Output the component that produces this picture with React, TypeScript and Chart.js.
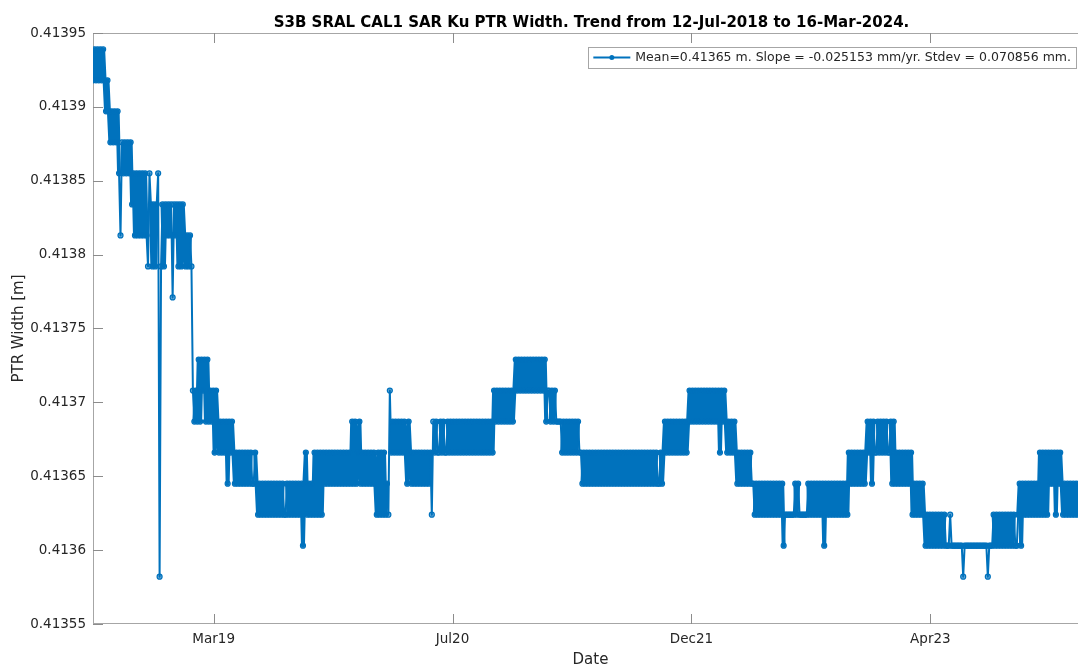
import React, { useEffect, useRef } from 'react';
import { Chart, registerables } from 'chart.js';

Chart.register(...registerables);

// ---- Text ----
const TITLE = 'S3B SRAL CAL1 SAR Ku PTR Width. Trend from 12-Jul-2018 to 16-Mar-2024.';
const X_TITLE = 'Date';
const Y_TITLE = 'PTR Width [m]';
const LEGEND_TEXT = 'Mean=0.41365 m. Slope = -0.025153 mm/yr. Stdev = 0.070856 mm.';

// ---- Axes ----
// x is measured in days since 12-Jul-2018; the record ends on 16-Mar-2024.
const X_MAX_DAY = 2074;
const X_TICK_DAYS = [250, 745, 1240, 1735];
const X_TICK_LABELS = ['Mar19', 'Jul20', 'Dec21', 'Apr23'];
const Y_MIN = 0.41355;
const Y_MAX = 0.41395;
const Y_TICKS = [0.41355, 0.4136, 0.41365, 0.4137, 0.41375, 0.4138, 0.41385, 0.4139, 0.41395];
const Y_TICK_LABELS = ['0.41355', '0.4136', '0.41365', '0.4137', '0.41375', '0.4138', '0.41385', '0.4139', '0.41395'];

// ---- Data ----
// The PTR width is quantised; these are the discrete levels it takes (m).
const ptrLevels = [
  0.413939, 0.413918, 0.413897, 0.413876, 0.413855, 0.413834, 0.413813, 0.413792,
  0.413771, 0.41375, 0.413729, 0.413708, 0.413687, 0.413666, 0.413645, 0.413624,
  0.413603, 0.413582,
];
// One calibration sample every 3 days, given as an index into ptrLevels.
const SAMPLE_STEP_DAYS = 3;
const ptrLevelIdx = [
  1, 0, 1, 0, 1, 0, 1, 0, 1, 2, 1, 2, 3, 2, 3, 2, 3, 2, 4, 6,
  3, 4, 3, 4, 3, 4, 3, 5, 4, 6, 4, 6, 4, 6, 4, 6, 4, 6, 7, 4,
  5, 7, 5, 7, 5, 4, 17, 7, 5, 7, 5, 6, 5, 6, 5, 8, 5, 6, 5, 7,
  5, 7, 5, 6, 7, 6, 7, 6, 7, 11, 12, 11, 12, 10, 12, 10, 11, 10, 12, 10,
  12, 11, 12, 11, 13, 11, 12, 13, 12, 13, 12, 13, 12, 14, 12, 13, 12, 13, 14, 13,
  14, 13, 14, 13, 14, 13, 14, 13, 14, 13, 14, 14, 13, 14, 15, 14, 15, 14, 15, 14,
  15, 14, 15, 14, 15, 14, 15, 14, 15, 14, 15, 14, 15, 15, 14, 15, 14, 15, 14, 15,
  14, 15, 14, 15, 14, 16, 14, 13, 15, 14, 15, 14, 15, 13, 15, 13, 15, 13, 15, 13,
  14, 13, 14, 13, 14, 13, 14, 13, 14, 13, 14, 13, 14, 13, 14, 13, 14, 13, 14, 12,
  14, 12, 14, 13, 12, 14, 13, 14, 13, 14, 13, 14, 13, 14, 13, 14, 15, 13, 15, 13,
  15, 13, 15, 14, 15, 11, 13, 12, 13, 12, 13, 12, 13, 12, 13, 12, 13, 14, 12, 13,
  14, 13, 14, 13, 14, 13, 14, 13, 14, 13, 14, 13, 14, 13, 15, 12, 13, 12, 13, 13,
  12, 13, 12, 13, 13, 12, 13, 12, 13, 12, 13, 12, 13, 12, 13, 12, 13, 12, 13, 12,
  13, 12, 13, 12, 13, 12, 13, 12, 13, 12, 13, 12, 13, 12, 13, 12, 13, 11, 12, 11,
  12, 11, 12, 11, 12, 11, 12, 11, 12, 11, 12, 11, 10, 11, 10, 11, 10, 11, 10, 11,
  10, 11, 10, 11, 10, 11, 10, 11, 10, 11, 10, 11, 10, 12, 11, 11, 12, 11, 12, 11,
  12, 12, 12, 12, 13, 12, 13, 12, 13, 12, 13, 12, 13, 12, 13, 12, 13, 13, 14, 13,
  14, 13, 14, 13, 14, 13, 14, 13, 14, 13, 14, 13, 14, 13, 14, 13, 14, 13, 14, 13,
  14, 13, 14, 13, 14, 13, 14, 13, 14, 13, 14, 13, 14, 13, 14, 13, 14, 13, 14, 13,
  14, 13, 14, 13, 14, 13, 14, 13, 14, 13, 14, 14, 13, 14, 13, 12, 13, 12, 13, 12,
  13, 12, 13, 12, 13, 12, 13, 12, 13, 12, 13, 12, 11, 12, 11, 12, 11, 12, 11, 12,
  11, 12, 11, 12, 11, 12, 11, 12, 11, 12, 11, 12, 11, 13, 11, 12, 11, 12, 13, 12,
  13, 12, 13, 12, 13, 14, 13, 14, 13, 14, 13, 14, 13, 14, 13, 14, 14, 15, 14, 15,
  14, 15, 14, 15, 14, 15, 14, 15, 14, 15, 14, 15, 14, 15, 14, 15, 14, 16, 15, 15,
  15, 15, 15, 15, 15, 14, 15, 14, 15, 15, 15, 15, 15, 15, 14, 15, 14, 15, 14, 15,
  14, 15, 14, 15, 14, 16, 14, 15, 14, 15, 14, 15, 14, 15, 14, 15, 14, 15, 14, 15,
  14, 15, 13, 14, 13, 14, 13, 14, 13, 14, 13, 14, 13, 14, 13, 12, 13, 12, 14, 12,
  13, 13, 12, 13, 12, 13, 12, 13, 12, 13, 13, 12, 14, 12, 14, 13, 14, 13, 14, 13,
  14, 13, 14, 13, 14, 13, 15, 14, 15, 14, 15, 14, 15, 14, 15, 16, 15, 16, 15, 16,
  15, 16, 15, 16, 15, 16, 15, 16, 15, 16, 16, 16, 15, 16, 16, 16, 16, 16, 16, 16,
  16, 17, 16, 16, 16, 16, 16, 16, 16, 16, 16, 16, 16, 16, 16, 16, 16, 16, 17, 16,
  16, 16, 15, 16, 15, 16, 15, 16, 15, 16, 15, 16, 15, 16, 15, 16, 15, 16, 16, 15,
  14, 16, 14, 15, 14, 15, 14, 15, 14, 15, 14, 15, 14, 15, 13, 15, 13, 15, 13, 15,
  13, 14, 13, 14, 13, 15, 13, 14, 13, 14, 15, 14, 15, 14, 15, 14, 15, 14, 15, 14,
  15, 14, 15, 14, 15, 14, 15, 14, 15, 14, 15, 14,
];

// ---- Style ----
const FONT = "'DejaVu Sans', sans-serif";
const LINE_COLOR = '#0072BD';
const MARKER_FILL = 'rgba(0, 114, 189, 0.6)';
const TEXT_COLOR = '#262626';
const FRAME_COLOR = '#a6a6a6';
const TICK_COLOR = '#8c8c8c';
const TICK_LEN = 10;
// Inside a run of back-and-forth hops between neighbouring levels the
// stroke is widened so the oscillation reads as a solid band; isolated
// jumps keep the normal line width.
const BAND_WIDTH = 4;
const LINE_WIDTH = 2;

const CANVAS_W = 1110;
const CANVAS_H = 666;

const isHop = (j: number) =>
  j >= 0 &&
  j + 1 < ptrLevelIdx.length &&
  ptrLevelIdx[j] !== ptrLevelIdx[j + 1] &&
  Math.abs(ptrLevelIdx[j] - ptrLevelIdx[j + 1]) <= 2;

const segmentWidth = (ctx: any) => {
  const i = ctx.p0DataIndex;
  return isHop(i - 1) && isHop(i) && isHop(i + 1) ? BAND_WIDTH : LINE_WIDTH;
};

const framePlugin = {
  id: 'matlabFrame',
  beforeDatasetsDraw(chart: any) {
    const { ctx, chartArea, scales } = chart;
    const { left, right, top, bottom } = chartArea;
    ctx.save();
    ctx.lineWidth = 1;
    ctx.strokeStyle = FRAME_COLOR;
    ctx.strokeRect(left + 0.5, top + 0.5, right - left - 1, bottom - top - 1);
    ctx.strokeStyle = TICK_COLOR;
    ctx.beginPath();
    Y_TICKS.forEach((v) => {
      const y = Math.round(scales.y.getPixelForValue(v)) + 0.5;
      ctx.moveTo(left, y);
      ctx.lineTo(left + TICK_LEN, y);
      ctx.moveTo(right, y);
      ctx.lineTo(right - TICK_LEN, y);
    });
    X_TICK_DAYS.forEach((d) => {
      const x = Math.round(scales.x.getPixelForValue(d)) + 0.5;
      ctx.moveTo(x, bottom);
      ctx.lineTo(x, bottom - TICK_LEN);
      ctx.moveTo(x, top);
      ctx.lineTo(x, top + TICK_LEN);
    });
    ctx.stroke();
    ctx.restore();
  },
  afterDraw(chart: any) {
    const { ctx, chartArea } = chart;
    const { left, right, top, bottom } = chartArea;
    const cx = (left + right) / 2;
    ctx.save();

    // title
    ctx.fillStyle = '#000';
    ctx.font = `bold 15px ${FONT}`;
    ctx.textAlign = 'center';
    ctx.textBaseline = 'alphabetic';
    ctx.fillText(TITLE, cx - 2, 27);

    // axis titles
    ctx.fillStyle = TEXT_COLOR;
    ctx.font = `15px ${FONT}`;
    ctx.fillText(X_TITLE, cx - 3, 664);
    ctx.save();
    ctx.translate(23, (top + bottom) / 2);
    ctx.rotate(-Math.PI / 2);
    ctx.fillText(Y_TITLE, 0, 0);
    ctx.restore();

    // legend box
    ctx.font = `12.5px ${FONT}`;
    const textW = ctx.measureText(LEGEND_TEXT).width;
    const boxRight = right - 18;
    const boxLeft = boxRight - (textW + 52);
    const boxTop = 47;
    const boxBottom = 68;
    const midY = (boxTop + boxBottom) / 2;
    ctx.fillStyle = '#fff';
    ctx.fillRect(boxLeft, boxTop, boxRight - boxLeft, boxBottom - boxTop);
    ctx.strokeStyle = FRAME_COLOR;
    ctx.lineWidth = 1;
    ctx.strokeRect(Math.round(boxLeft) + 0.5, boxTop + 0.5, Math.round(boxRight - boxLeft), boxBottom - boxTop);
    ctx.strokeStyle = LINE_COLOR;
    ctx.lineWidth = 2;
    ctx.beginPath();
    ctx.moveTo(boxLeft + 5, midY);
    ctx.lineTo(boxLeft + 42, midY);
    ctx.stroke();
    ctx.beginPath();
    ctx.arc(boxLeft + 23.5, midY, 2.5, 0, Math.PI * 2);
    ctx.fillStyle = LINE_COLOR;
    ctx.fill();
    ctx.fillStyle = TEXT_COLOR;
    ctx.textAlign = 'left';
    ctx.textBaseline = 'middle';
    ctx.fillText(LEGEND_TEXT, boxLeft + 47, midY + 0.5);

    ctx.restore();
  },
};

export default function App() {
  const canvasRef = useRef<HTMLCanvasElement>(null);

  useEffect(() => {
    const canvas = canvasRef.current;
    if (!canvas) return;
    const points = ptrLevelIdx.map((k, i) => ({ x: i * SAMPLE_STEP_DAYS, y: ptrLevels[k] }));

    const chart = new Chart(canvas, {
      type: 'line',
      data: {
        datasets: [
          {
            label: LEGEND_TEXT,
            data: points,
            borderColor: LINE_COLOR,
            borderWidth: LINE_WIDTH,
            borderJoinStyle: 'round',
            borderCapStyle: 'round',
            pointRadius: 2.5,
            pointBorderWidth: 1.2,
            pointBorderColor: LINE_COLOR,
            pointBackgroundColor: MARKER_FILL,
            tension: 0,
            segment: { borderWidth: segmentWidth },
          },
        ],
      },
      options: {
        responsive: false,
        animation: false,
        devicePixelRatio: 1,
        events: [],
        layout: { padding: { left: 0, right: 16, top: 33, bottom: 0 } },
        plugins: {
          legend: { display: false },
          tooltip: { enabled: false },
          title: { display: false },
        },
        scales: {
          x: {
            type: 'linear',
            min: 0,
            max: X_MAX_DAY,
            grid: { display: false, drawTicks: false },
            border: { display: false },
            afterBuildTicks: (scale: any) => {
              scale.ticks = X_TICK_DAYS.map((v) => ({ value: v }));
            },
            afterFit: (scale: any) => {
              scale.height = 42;
            },
            ticks: {
              autoSkip: false,
              maxRotation: 0,
              padding: 7,
              color: TEXT_COLOR,
              font: { family: FONT, size: 13.5 },
              callback: (_v: any, i: number) => X_TICK_LABELS[i],
            },
          },
          y: {
            type: 'linear',
            min: Y_MIN,
            max: Y_MAX,
            grid: { display: false, drawTicks: false },
            border: { display: false },
            afterBuildTicks: (scale: any) => {
              scale.ticks = Y_TICKS.map((v) => ({ value: v }));
            },
            afterFit: (scale: any) => {
              scale.width = 93;
            },
            ticks: {
              autoSkip: false,
              padding: 7,
              color: TEXT_COLOR,
              font: { family: FONT, size: 13.5 },
              callback: (_v: any, i: number) => Y_TICK_LABELS[i],
            },
          },
        },
      },
      plugins: [framePlugin],
    });

    return () => chart.destroy();
  }, []);

  return (
    <div
      style={{
        position: 'fixed',
        left: 0,
        top: 0,
        width: 1078,
        height: 666,
        overflow: 'hidden',
        background: '#fff',
      }}
    >
      <canvas
        ref={canvasRef}
        width={CANVAS_W}
        height={CANVAS_H}
        style={{ display: 'block', width: CANVAS_W, height: CANVAS_H }}
      />
    </div>
  );
}
